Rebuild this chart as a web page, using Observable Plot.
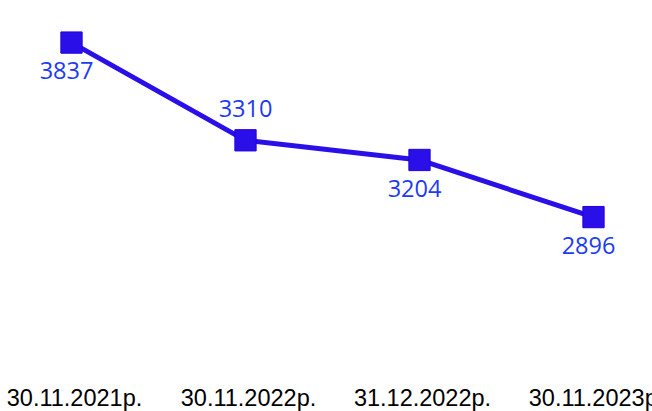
<!DOCTYPE html>
<html>
<head>
<meta charset="utf-8">
<script src="https://cdn.jsdelivr.net/npm/d3@7"></script>
<script src="https://cdn.jsdelivr.net/npm/@observablehq/plot@0.6"></script>
<style>
  html, body { margin: 0; padding: 0; background: #ffffff; }
  #chart svg { display: block; }
</style>
</head>
<body>
<div id="chart"></div>
<script>
const dates = ["30.11.2021р.", "30.11.2022р.", "31.12.2022р.", "30.11.2023р."];
const values = [3837, 3310, 3204, 2896];
const labelAbove = [false, true, false, false];

const data = dates.map((d, i) => ({date: d, value: values[i], above: labelAbove[i]}));

const lineColor = "#2a0fe8";
const labelColor = "#1d3bf2";

const chart = Plot.plot({
  width: 652,
  height: 411,
  marginLeft: 70,
  marginRight: 59,
  marginTop: 30,
  marginBottom: 30,
  style: {background: "transparent", overflow: "visible"},
  x: {type: "point", domain: dates, padding: 0, label: null},
  y: {domain: [2800, 3900], range: [234.4, 30.4], axis: null},
  marks: [
    Plot.axisX({
      label: null,
      tickSize: 0,
      tickPadding: 8,
      fontSize: 23.5,
      fontFamily: "Liberation Sans, Arial, sans-serif",
      color: "#000",
      fill: "#000",
      dx: 3
    }),
    Plot.line(data, {x: "date", y: "value", stroke: lineColor, strokeWidth: 5}),
    Plot.dot(data, {x: "date", y: "value", symbol: "square", r: 12, fill: lineColor, stroke: "#2200dd", strokeWidth: 1}),
    Plot.text(data.filter(d => !d.above), {
      x: "date", y: "value", text: d => String(d.value),
      dy: 29, dx: -5, fill: labelColor, fontSize: 23.5,
      fontFamily: "Open Sans, sans-serif"
    }),
    Plot.text(data.filter(d => d.above), {
      x: "date", y: "value", text: d => String(d.value),
      dy: -31, fill: labelColor, fontSize: 23.5,
      fontFamily: "Open Sans, sans-serif"
    })
  ]
});

document.getElementById("chart").appendChild(chart);
</script>
</body>
</html>
